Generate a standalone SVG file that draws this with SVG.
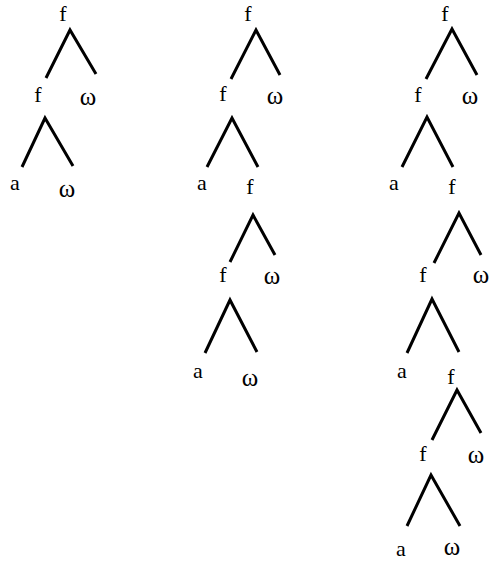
<svg xmlns="http://www.w3.org/2000/svg" width="491" height="563" viewBox="0 0 491 563">
  <style>
    .lbl { font-family: "Liberation Serif", "Times New Roman", serif; font-size: 22px; fill: #000; text-anchor: middle; }
    .om { font-size: 25px; }
    .edge { fill: none; stroke: #000; stroke-width: 3; stroke-linecap: butt; stroke-linejoin: miter; }
  </style>
  <rect width="491" height="563" fill="#fff"/>

  <!-- tree 1 -->
  <g id="tree1">
    <g id="t1-connectors">
      <polyline class="edge" points="46,78 70,30 96,74"/>
      <polyline class="edge" points="22,167 45,118 73,166"/>
    </g>
    <g id="t1-n1"><text class="lbl" x="63" y="21">f</text></g>
    <g id="t1-n2"><text class="lbl" x="38" y="102">f</text></g>
    <g id="t1-n3"><text class="lbl om" x="88" y="105">ω</text></g>
    <g id="t1-n4"><text class="lbl" x="15" y="190">a</text></g>
    <g id="t1-n5"><text class="lbl om" x="67" y="197">ω</text></g>
  </g>

  <!-- tree 2 -->
  <g id="tree2">
    <g id="t2-connectors">
      <polyline class="edge" points="231,79 256,30 280,75"/>
      <polyline class="edge" points="207,167 232,118 258,167"/>
      <polyline class="edge" points="230,262 253,215 275,255"/>
      <polyline class="edge" points="205,353 230,300 257,352"/>
    </g>
    <g id="t2-n1"><text class="lbl" x="248" y="21">f</text></g>
    <g id="t2-n2"><text class="lbl" x="223" y="101">f</text></g>
    <g id="t2-n3"><text class="lbl om" x="275" y="104">ω</text></g>
    <g id="t2-n4"><text class="lbl" x="202" y="190">a</text></g>
    <g id="t2-n5"><text class="lbl" x="250" y="194">f</text></g>
    <g id="t2-n6"><text class="lbl" x="223" y="282">f</text></g>
    <g id="t2-n7"><text class="lbl om" x="272" y="284">ω</text></g>
    <g id="t2-n8"><text class="lbl" x="198" y="378">a</text></g>
    <g id="t2-n9"><text class="lbl om" x="250" y="386">ω</text></g>
  </g>

  <!-- tree 3 -->
  <g id="tree3">
    <g id="t3-connectors">
      <polyline class="edge" points="426,79 452,29 477,75"/>
      <polyline class="edge" points="402,167 427,117 453,167"/>
      <polyline class="edge" points="434,263 459,213 481,255"/>
      <polyline class="edge" points="407,353 432,299 459,352"/>
      <polyline class="edge" points="432,440 457,390 481,433"/>
      <polyline class="edge" points="407,526 431,475 460,526"/>
    </g>
    <g id="t3-n1"><text class="lbl" x="445" y="21">f</text></g>
    <g id="t3-n2"><text class="lbl" x="418" y="102">f</text></g>
    <g id="t3-n3"><text class="lbl om" x="470" y="104">ω</text></g>
    <g id="t3-n4"><text class="lbl" x="394" y="190">a</text></g>
    <g id="t3-n5"><text class="lbl" x="452" y="194">f</text></g>
    <g id="t3-n6"><text class="lbl" x="423" y="282">f</text></g>
    <g id="t3-n7"><text class="lbl om" x="481" y="283">ω</text></g>
    <g id="t3-n8"><text class="lbl" x="402" y="378">a</text></g>
    <g id="t3-n9"><text class="lbl" x="451" y="384">f</text></g>
    <g id="t3-n10"><text class="lbl" x="423" y="461">f</text></g>
    <g id="t3-n11"><text class="lbl om" x="476" y="463">ω</text></g>
    <g id="t3-n12"><text class="lbl" x="401" y="556">a</text></g>
    <g id="t3-n13"><text class="lbl om" x="452" y="555">ω</text></g>
  </g>
</svg>
